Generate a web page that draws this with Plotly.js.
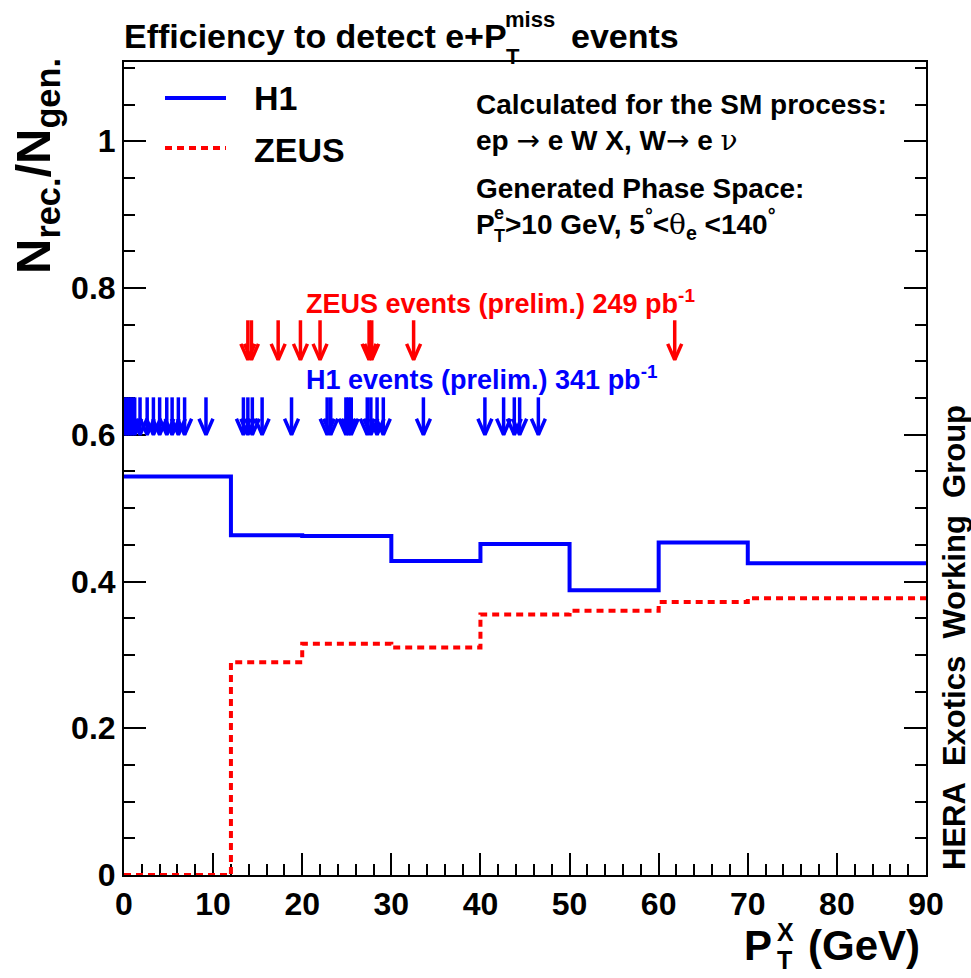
<!DOCTYPE html>
<html><head><meta charset="utf-8">
<script src="https://cdn.plot.ly/plotly-3.0.1.min.js"></script>
<style>body{margin:0;background:#fff}#chart{width:971px;height:978px}</style>
</head><body><div id="chart"></div>
<script>
// ---- data ----
const binEdges = [0, 12, 20, 30, 40, 50, 60, 70, 90];
const h1Eff   = [0.543, 0.463, 0.462, 0.428, 0.451, 0.388, 0.453, 0.425];
const zeusEff = [0.000, 0.290, 0.315, 0.310, 0.355, 0.360, 0.372, 0.377];
const h1Events = [0.1, 0.35, 0.65, 0.9, 1.2, 1.8, 2.6, 3.3, 4.0, 4.8, 5.4, 6.1, 6.8, 9.2,
                  13.4, 13.9, 14.4, 15.5, 18.8, 22.8, 23.2, 24.9, 25.2, 25.5, 27.3, 27.7,
                  28.4, 29.1, 33.6, 40.5, 42.6, 43.8, 44.4, 46.5];
const zeusEvents = [13.9, 14.3, 17.3, 19.8, 22.0, 27.5, 27.8, 32.5, 61.8];
const xTicks = [0, 10, 20, 30, 40, 50, 60, 70, 80, 90];
const yTicks = [0, 0.2, 0.4, 0.6, 0.8, 1];
const yTickLabels = ['0', '0.2', '0.4', '0.6', '0.8', '1'];

// ---- helpers ----
const L = 124, R = 926, T = 62, B = 875;
const X_MAX = 90, Y_MAX = 1.108;
const px = v => (v - L) / (R - L);
const py = v => (B - v) / (B - T);
const BLUE = '#0000ff', RED = '#ff0000';
const FONT = 'Liberation Sans, Arial, sans-serif';
const stepVals = a => a.concat([a[a.length - 1]]);

// arrow geometry (pixel sizes converted to axis units)
const HEAD_HALF_W = 7 * X_MAX / (R - L);
const HEAD_H = 16 * Y_MAX / (B - T);
function arrowTrace(events, tip, tail, col) {
  const xs = [], ys = [];
  events.forEach(v => {
    xs.push(v, v, null, v - HEAD_HALF_W, v, v + HEAD_HALF_W, null);
    ys.push(tail, tip, null, tip + HEAD_H, tip, tip + HEAD_H, null);
  });
  return {x: xs, y: ys, type: 'scatter', mode: 'lines', line: {color: col, width: 3.5},
          connectgaps: false, showlegend: false, hoverinfo: 'skip'};
}

const traces = [
  {x: binEdges, y: stepVals(h1Eff), type: 'scatter', mode: 'lines', line: {shape: 'hv', color: BLUE, width: 4}, showlegend: false, hoverinfo: 'skip'},
  {x: binEdges, y: stepVals(zeusEff), type: 'scatter', mode: 'lines', line: {shape: 'hv', color: RED, width: 4, dash: '7px,5px'}, showlegend: false, hoverinfo: 'skip', cliponaxis: false},
  arrowTrace(h1Events, 0.600, 0.651, BLUE),
  arrowTrace(zeusEvents, 0.702, 0.756, RED)
];

const anns = [];
function txt(text, x, y, size, opts) {
  anns.push(Object.assign({text: text, x: px(x), y: py(y), xref: 'paper', yref: 'paper',
    xanchor: 'left', yanchor: 'middle', showarrow: false,
    font: {family: FONT, size: size, color: '#000', weight: 'bold'}}, opts || {}));
}
// title
txt('Efficiency to detect e+P', 122, 36, 34);
txt('miss', 503, 19, 22);
txt('T', 504, 56, 22);
txt('events', 569, 36, 34);
// legend text
txt('H1', 252, 98, 34);
txt('ZEUS', 252, 150, 34);
// info block
txt('Calculated for the SM process:', 474, 105, 28);
txt('ep <span style="font-weight:normal;font-family:DejaVu Sans">\u2192</span> e W X, W<span style="font-weight:normal;font-family:DejaVu Sans">\u2192</span> e <span style="font-weight:normal;font-family:DejaVu Serif">\u03bd</span>', 474, 140, 28);
txt('Generated Phase Space:', 474, 188, 28);
txt('P', 474, 225, 28);
txt('e', 492, 213, 18);
txt('T', 492, 236, 18);
txt('&gt;10 GeV, 5<sup>\u00b0</sup>&lt;<span style="font-weight:normal;font-family:DejaVu Serif">\u03b8</span><sub>e</sub> &lt;140<sup>\u00b0</sup>', 503, 224, 28);
// event labels
txt('ZEUS events (prelim.) 249 pb<sup>-1</sup>', 304, 302, 27, {font: {family: FONT, size: 27, color: RED, weight: 'bold'}});
txt('H1 events (prelim.) 341 pb<sup>-1</sup>', 304, 378, 27, {font: {family: FONT, size: 27, color: BLUE, weight: 'bold'}});
// axis titles
txt('N<sub>rec.</sub>/N<sub>gen.</sub>', 36, 166, 49, {xanchor: 'center', textangle: -90});
txt('P', 742, 945, 42);
txt('X', 775, 932, 25);
txt('T', 775, 960, 25);
txt('(GeV)', 806, 945, 42);
// side text
txt('HERA  Exotics  Working  Group', 954, 638, 31, {xanchor: 'center', textangle: -90});

const shapes = [
  {type: 'line', xref: 'paper', yref: 'paper', x0: px(165), x1: px(226), y0: py(98), y1: py(98), line: {color: BLUE, width: 4}},
  {type: 'line', xref: 'paper', yref: 'paper', x0: px(165), x1: px(226), y0: py(148), y1: py(148), line: {color: RED, width: 4, dash: '7px,5px'}}
];

const tickFont = {family: FONT, size: 32, color: '#000', weight: 'bold'};
const layout = {
  width: 971, height: 978,
  margin: {l: L, r: 971 - R, t: T, b: 978 - B, pad: 0},
  paper_bgcolor: '#fff', plot_bgcolor: '#fff',
  showlegend: false,
  xaxis: {range: [0, X_MAX], tickmode: 'array', tickvals: xTicks, ticktext: xTicks.map(String),
    ticks: 'inside', ticklen: 22, tickwidth: 2, tickcolor: '#000',
    minor: {dtick: 2, ticks: 'inside', ticklen: 11, tickwidth: 2, tickcolor: '#000'},
    showline: true, linecolor: '#000', linewidth: 2, mirror: true,
    showgrid: false, zeroline: false, tickfont: tickFont, layer: 'below traces'},
  yaxis: {range: [0, Y_MAX], tickmode: 'array', tickvals: yTicks, ticktext: yTickLabels,
    ticks: 'inside', ticklen: 22, tickwidth: 2, tickcolor: '#000',
    minor: {dtick: 0.05, ticks: 'inside', ticklen: 11, tickwidth: 2, tickcolor: '#000'},
    showline: true, linecolor: '#000', linewidth: 2, mirror: 'ticks',
    showgrid: false, zeroline: false, tickfont: tickFont, layer: 'below traces'},
  annotations: anns,
  shapes: shapes
};
Plotly.newPlot('chart', traces, layout, {staticPlot: true});
</script></body></html>
